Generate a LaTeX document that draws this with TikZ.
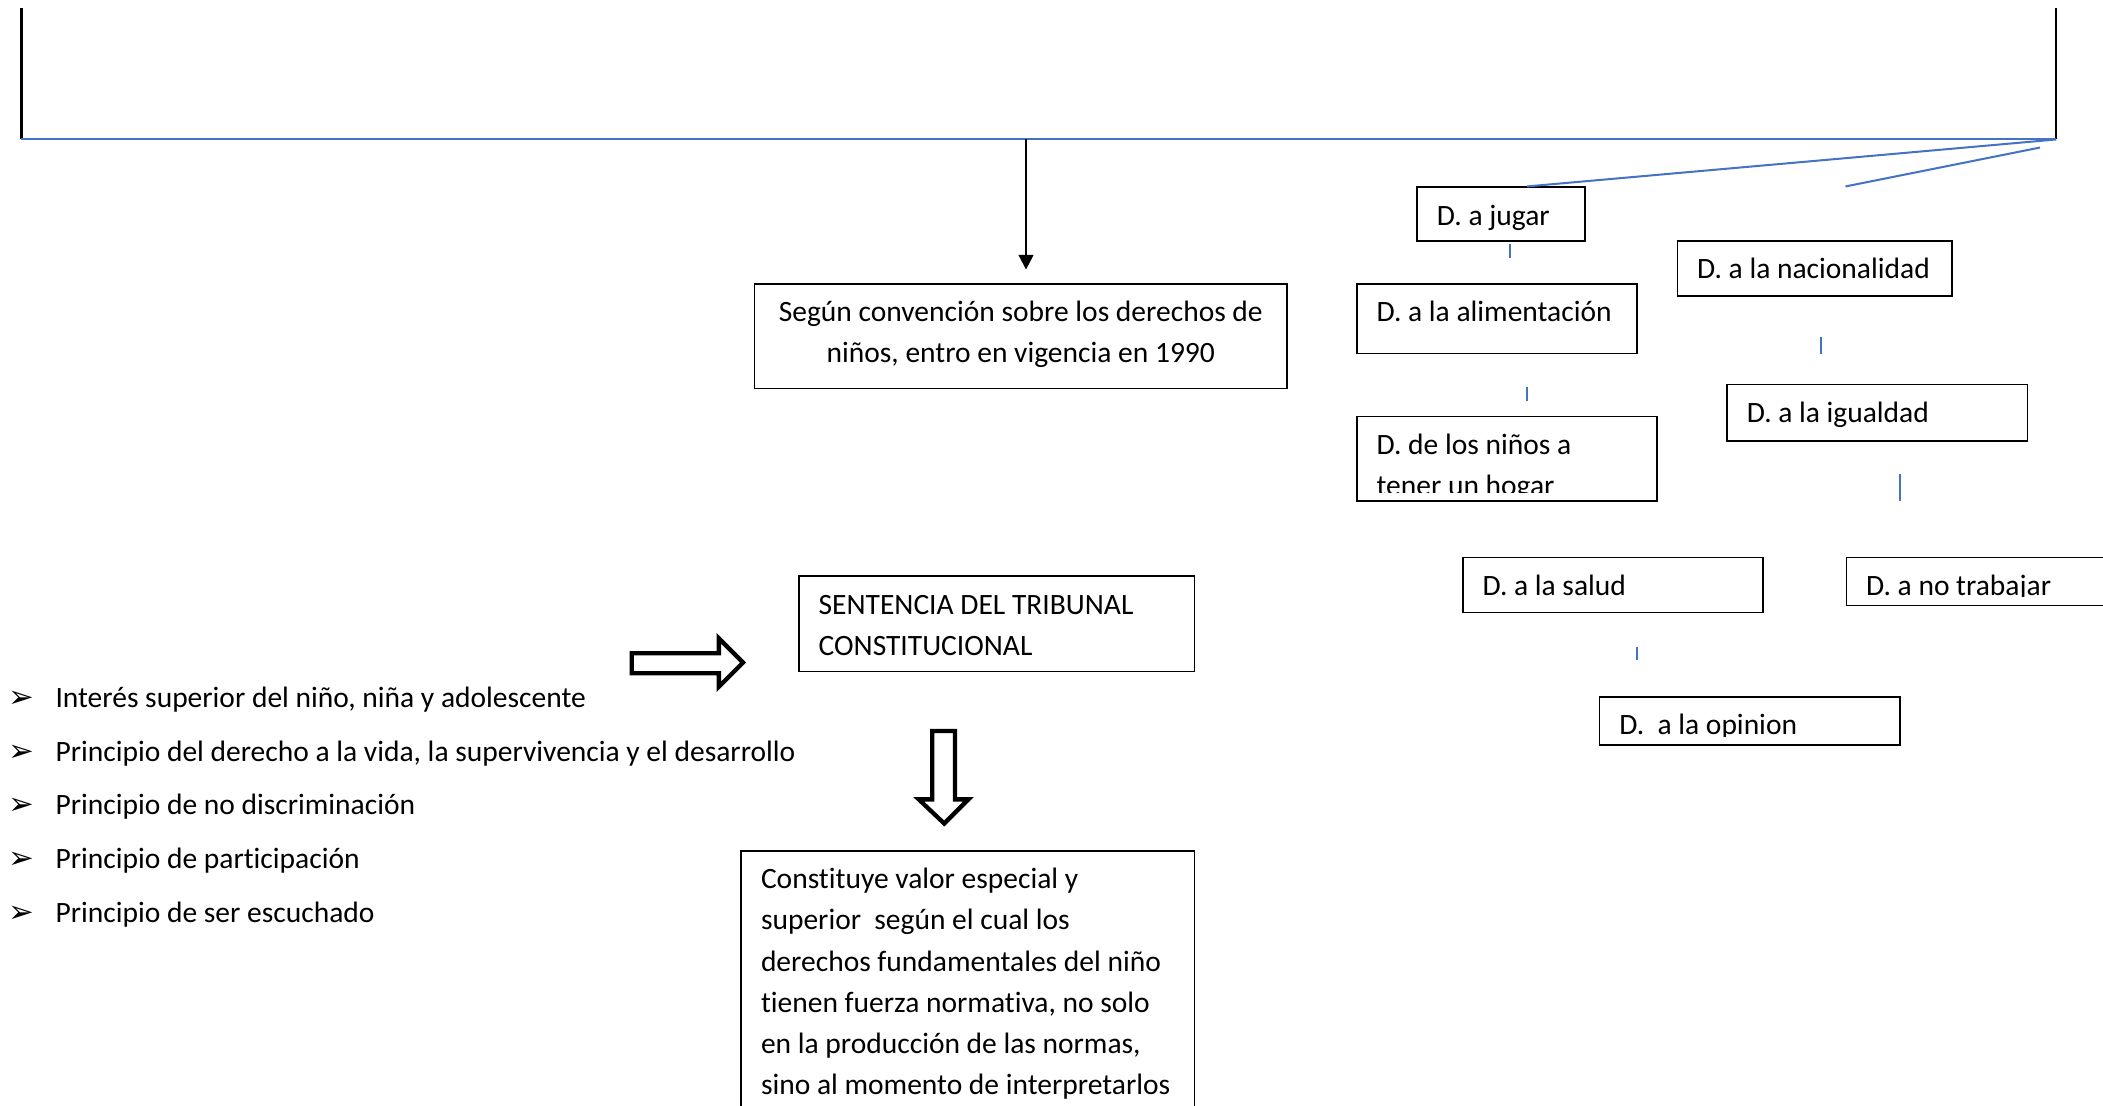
\documentclass[tikz,border=0pt]{standalone}
\usepackage{fontspec}
\setmainfont[Ligatures={NoCommon}]{Carlito}
\newfontfamily\bulletfont{DejaVu Sans}
\usetikzlibrary{arrows.meta}
\definecolor{linkblue}{RGB}{68,114,196}

\begin{document}
\begin{tikzpicture}
  [x=0.5pt, y=-0.5pt,
   box/.style={draw, line width=0.6pt, inner sep=0pt, anchor=north west},
   txt/.style={font=\fontsize{11}{15.3}\selectfont, inner sep=0pt, anchor=base west},
   para/.style={txt, text width=200pt, align=flush left},
   link/.style={draw=linkblue, line width=0.75pt},
   bar/.style={line width=1pt},
   hollow/.style={draw, line width=1.6pt, line join=miter},
   item/.style={txt, execute at begin node={\makebox[17.5pt][l]{\fontsize{11.5}{11.5}\bulletfont ➢}}}]
    \useasboundingbox (0,0) rectangle (1568,824);
    \clip (0,0) rectangle (1568,824);

    % top bracket
    \coordinate (tl) at (16,6);
    \coordinate (bl) at (16,104);
    \coordinate (tr) at (1533,6);
    \coordinate (br) at (1533,104);
    \coordinate (mid) at (765,104);
    \draw[bar] (tl) -- (bl);
    \draw[bar] (tr) -- (br);
    \draw[link] (bl) -- (br);

    % convention
    \node[box, minimum width=198.5pt, minimum height=39pt] (convencion) at (562,211) {};
    \node[txt, anchor=base, text width=195pt, align=flush center] (convencion-t)
      at ([yshift=-14.4pt]convencion.north) {Según convención sobre los derechos de\\niños, entro en vigencia en 1990};
    \draw[-{Triangle[length=5.5pt,width=5.5pt]}, line width=0.8pt, shorten >=5pt] (mid) -- (mid |- convencion.north);

    % rights
    \node[box, minimum width=62.5pt, minimum height=20pt] (jugar) at (1056,139) {};
    \node[txt] (jugar-t) at ([shift={(7.5pt,-14.4pt)}]jugar.north west) {D. a jugar};
    \node[box, minimum width=104.5pt, minimum height=26pt] (alimentacion) at (1011,211) {};
    \node[txt] (alimentacion-t) at ([shift={(7.5pt,-14.4pt)}]alimentacion.north west) {D. a la alimentación};
    \node[box, minimum width=112pt, minimum height=31.5pt] (hogar) at (1011,310) {};
    \begin{scope}
      \clip ([yshift=3.6pt]hogar.south west) rectangle (hogar.north east);
      \node[para] (hogar-t) at ([shift={(7.5pt,-14.4pt)}]hogar.north west) {D. de los niños a\\tener un hogar};
    \end{scope}
    \node[box, minimum width=102.5pt, minimum height=20.5pt] (nacionalidad) at (1250,179) {};
    \node[txt] (nacionalidad-t) at ([shift={(7.5pt,-14.4pt)}]nacionalidad.north west) {D. a la nacionalidad};
    \node[box, minimum width=112pt, minimum height=21pt] (igualdad) at (1287,286) {};
    \node[txt] (igualdad-t) at ([shift={(7.5pt,-14.4pt)}]igualdad.north west) {D. a la igualdad};
    \node[box, minimum width=112pt, minimum height=20.5pt] (salud) at (1090,415) {};
    \node[txt] (salud-t) at ([shift={(7.5pt,-14.4pt)}]salud.north west) {D. a la salud};
    \node[box, minimum width=112pt, minimum height=18pt] (trabajar) at (1376,415) {};
    \begin{scope}
      \clip ([yshift=3.6pt]trabajar.south west) rectangle (trabajar.north east);
      \node[txt] (trabajar-t) at ([shift={(7.5pt,-14.4pt)}]trabajar.north west) {D. a no trabajar};
    \end{scope}
    \node[box, minimum width=112pt, minimum height=18pt] (opinion) at (1192,519) {};
    \begin{scope}
      \clip ([yshift=3.6pt]opinion.south west) rectangle (opinion.north east);
      \node[txt] (opinion-t) at ([shift={(7.5pt,-14.4pt)}]opinion.north west) {D.~ a la opinion};
    \end{scope}

    % blue links
    \coordinate (fork-a) at (1521,110);
    \coordinate (fork-b) at (1376,139);
    \draw[link] (br) -- ([xshift=9.75pt]jugar.north);
    \draw[link] (fork-a) -- (fork-b);
    \draw[link] ([shift={(3.25pt,-1pt)}]jugar.south) -- +(0,10);
    \draw[link] ([shift={(11.25pt,-12pt)}]alimentacion.south) -- +(0,11);
    \draw[link] ([shift={(2.25pt,-15pt)}]nacionalidad.south) -- +(0,13);
    \draw[link] ([shift={(8.5pt,-12pt)}]igualdad.south) -- +(0,20);
    \draw[link] ([shift={(9pt,-12.5pt)}]salud.south) -- +(0,10);

    % tribunal
    \node[box, minimum width=147.5pt, minimum height=35.5pt] (sentencia) at (595,429) {};
    \node[para] (sentencia-t) at ([shift={(7.5pt,-14.4pt)}]sentencia.north west) {SENTENCIA DEL TRIBUNAL\\CONSTITUCIONAL};
    \node[box, minimum width=169pt, minimum height=200pt] (valor) at (552,634) {};
    \node[para] (valor-t) at ([shift={(7.5pt,-14.4pt)}]valor.north west)
      {Constituye valor especial y\\superior~ según el cual los\\derechos fundamentales del niño\\tienen fuerza normativa, no solo\\en la producción de las normas,\\sino al momento de interpretarlos};

    % block arrows
    \draw[hollow] (471,487) -- (536,487) -- (536,476) -- (554,494) -- (536,512) -- (536,502) -- (471,502) -- cycle;
    \draw[hollow] (695,545) -- (712,545) -- (712,596) -- (722,596) -- (704,614) -- (685,596) -- (695,596) -- cycle;

    % principles
    \node[item] (item-a) at (6,527.5) {Interés superior del niño, niña y adolescente};
    \node[item] (item-b) at (6,567.5) {Principio del derecho a la vida, la supervivencia y el desarrollo};
    \node[item] (item-c) at (6,607.5) {Principio de no discriminación};
    \node[item] (item-d) at (6,647.5) {Principio de participación};
    \node[item] (item-e) at (6,687.5) {Principio de ser escuchado};

\end{tikzpicture}
\end{document}
